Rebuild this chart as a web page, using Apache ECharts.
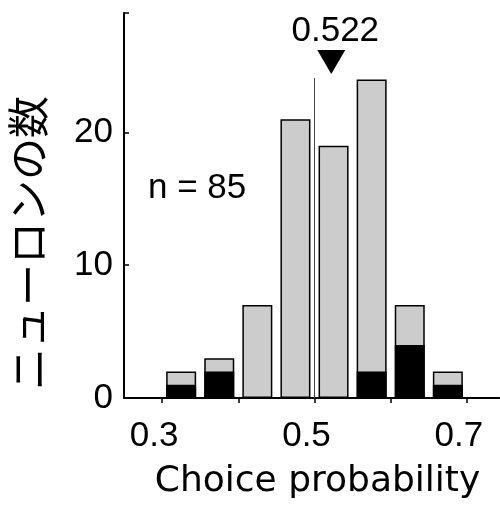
<!DOCTYPE html>
<html>
<head>
<meta charset="utf-8">
<script src="https://cdn.jsdelivr.net/npm/echarts@6/dist/echarts.min.js"></script>
<style>html,body{margin:0;padding:0;background:#fff;}#c{width:500px;height:512px;}</style>
</head>
<body>
<div id="c"></div>
<script>
// Data
var binCenters = [0.325, 0.375, 0.425, 0.475, 0.525, 0.575, 0.625, 0.675];
var totalCounts = [2, 3, 7, 21, 19, 24, 7, 2];
var blackCounts = [1, 2, 0, 0, 0, 2, 4, 1];
var xTickLabels = ['0.3', '0.5', '0.7'];
var yTickLabels = ['0', '10', '20'];
var medianValue = 0.522;
var nLabel = 'n = 85';
var refLine = 0.5;

var chart = echarts.init(document.getElementById('c'), null, {renderer: 'canvas'});
var numFont = '"Liberation Sans", Arial, sans-serif';
var PX = 762; // pixels per unit of x

var totalData = binCenters.map(function (x, i) { return [x, totalCounts[i]]; });
var blackData = binCenters.map(function (x, i) { return blackCounts[i] > 0 ? [x, blackCounts[i]] : [x, '-']; });

var option = {
  animation: false,
  grid: [
    {left: 124, top: 13, width: 0.4925 * PX, height: 385, containLabel: false},
    {left: 124 + 0.05 * PX, top: 13, width: 0.4 * PX, height: 385, containLabel: false}
  ],
  xAxis: [
    {
      gridIndex: 0, type: 'value', min: 0.25, max: 0.7425,
      axisLine: {show: true, onZero: false, lineStyle: {color: '#000', width: 2}},
      axisTick: {show: false}, axisLabel: {show: false}, splitLine: {show: false}
    },
    {
      gridIndex: 1, type: 'value', min: 0.3, max: 0.7, interval: 0.1,
      name: 'Choice probability', nameLocation: 'middle', nameGap: 66,
      nameTextStyle: {fontFamily: '"DejaVu Sans", sans-serif', fontSize: 36, color: '#000', padding: [0, 0, 0, 6]},
      axisLine: {show: false, onZero: false},
      axisTick: {show: true, length: 5, inside: false, lineStyle: {color: '#000', width: 1.5}},
      splitLine: {show: false},
      axisLabel: {
        margin: 21, fontSize: 35, color: '#000', fontFamily: numFont, padding: [0, 16, 0, 0],
        formatter: function (v) {
          var s = v.toFixed(1);
          return xTickLabels.indexOf(s) >= 0 ? s : '';
        }
      }
    }
  ],
  yAxis: [
    {
      gridIndex: 0, type: 'value', min: 0, max: 29, interval: 10,
      axisLine: {show: true, lineStyle: {color: '#000', width: 2}},
      axisTick: {show: true, inside: true, length: 5, lineStyle: {color: '#000', width: 1.5}},
      splitLine: {show: false},
      axisLabel: {margin: 11, fontSize: 35, color: '#000', fontFamily: numFont,
        formatter: function (v) { var s = String(v); return yTickLabels.indexOf(s) >= 0 ? s : ''; }}
    },
    {
      gridIndex: 1, type: 'value', min: 0, max: 29, show: false
    }
  ],
  graphic: [
    {type: 'text', x: 28, y: 243, rotation: Math.PI / 2,
     style: {text: 'ニューロンの数', font: '42px "Noto Sans CJK JP"', fill: '#000', align: 'center', verticalAlign: 'middle'}},
    {type: 'text', x: 148, y: 188,
     style: {text: nLabel, font: '35px "Liberation Sans", Arial, sans-serif', fill: '#000', align: 'left', verticalAlign: 'middle'}}
  ],
  series: [
    {
      type: 'bar', xAxisIndex: 0, yAxisIndex: 0, data: totalData, barWidth: 30, z: 2,
      itemStyle: {color: '#cccccc', borderColor: '#000', borderWidth: 1.5},
      markLine: {
        silent: true, symbol: ['none', 'none'], label: {show: false},
        lineStyle: {color: '#444', width: 1, type: 'solid'},
        data: [[{coord: [refLine, 0]}, {coord: [refLine, 24.1]}]]
      },
      markPoint: {
        silent: true,
        data: [{coord: [medianValue, 25.3], value: medianValue}],
        symbol: 'triangle', symbolSize: [28, 24], symbolRotate: 180,
        itemStyle: {color: '#000'},
        label: {show: true, position: 'top', distance: 1, offset: [4, 0], fontSize: 35, color: '#000', fontFamily: numFont,
          formatter: function (p) { return medianValue.toFixed(3); }}
      }
    },
    {
      type: 'bar', xAxisIndex: 0, yAxisIndex: 0, data: blackData, barWidth: 30, barGap: '-100%', z: 3,
      itemStyle: {color: '#000', borderColor: '#000', borderWidth: 1.5}
    }
  ]
};
chart.setOption(option);
</script>
</body>
</html>
